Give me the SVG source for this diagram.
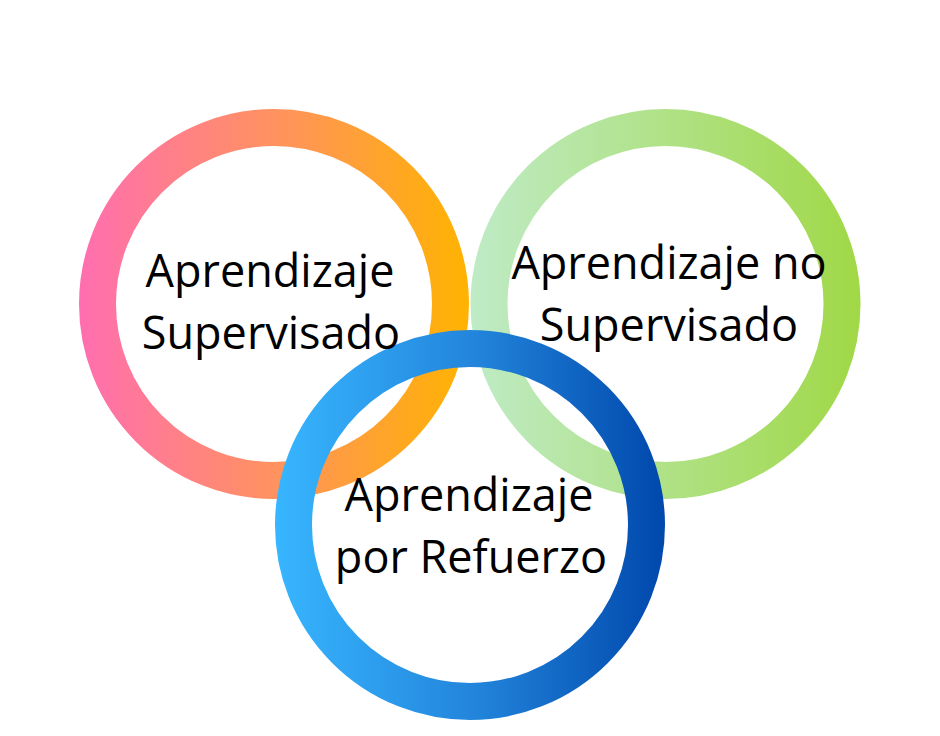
<svg xmlns="http://www.w3.org/2000/svg" width="940" height="736" viewBox="0 0 940 736">
<defs>
<linearGradient id="gOrange" gradientUnits="userSpaceOnUse" x1="79" y1="0" x2="469" y2="0">
<stop offset="0" stop-color="#FF6EB0"/>
<stop offset="0.5" stop-color="#FF9260"/>
<stop offset="1" stop-color="#FFB300"/>
</linearGradient>
<linearGradient id="gGreen" gradientUnits="userSpaceOnUse" x1="470" y1="0" x2="861" y2="0">
<stop offset="0" stop-color="#BFEBC6"/>
<stop offset="1" stop-color="#A0D846"/>
</linearGradient>
<linearGradient id="gBlue" gradientUnits="userSpaceOnUse" x1="275" y1="0" x2="665" y2="0">
<stop offset="0" stop-color="#38B6FF"/>
<stop offset="0.5" stop-color="#2386DC"/>
<stop offset="1" stop-color="#0048AC"/>
</linearGradient>
</defs>
<style>
.ring{fill:none;stroke-width:37}
.lbl{font-family:"Open Sans","Noto Sans",sans-serif;font-size:45px;fill:#000;text-anchor:middle}
</style>
<rect width="940" height="736" fill="#FFFFFF"/>
<g id="rings">
<g id="ring-supervisado"><circle class="ring" cx="274" cy="304" r="176.5" stroke="url(#gOrange)"/></g>
<g id="ring-no-supervisado"><circle class="ring" cx="665.5" cy="304" r="176.5" stroke="url(#gGreen)"/></g>
<g id="ring-refuerzo"><circle class="ring" cx="470" cy="525" r="176.5" stroke="url(#gBlue)"/></g>
</g>
<g id="labels">
<g id="label-supervisado"><text class="lbl" x="270" y="287">Aprendizaje</text><text class="lbl" x="271" y="349">Supervisado</text></g>
<g id="label-no-supervisado"><text class="lbl" x="669" y="279">Aprendizaje no</text><text class="lbl" x="669" y="341">Supervisado</text></g>
<g id="label-refuerzo"><text class="lbl" x="469" y="511">Aprendizaje</text><text class="lbl" x="471" y="573">por Refuerzo</text></g>
</g>
</svg>
